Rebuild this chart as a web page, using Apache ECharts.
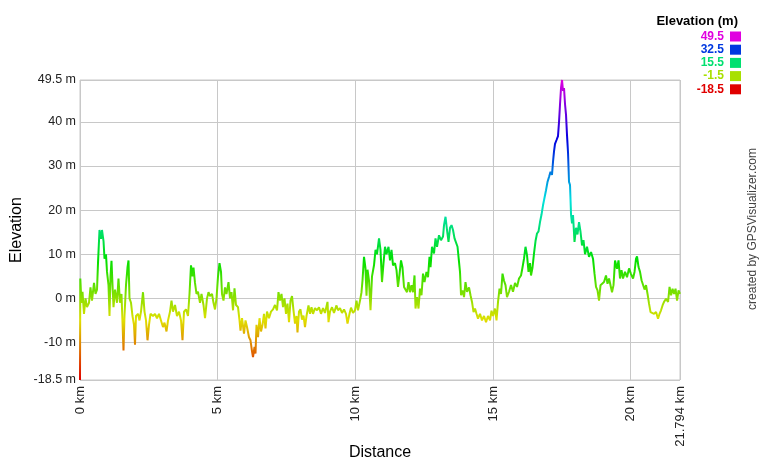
<!DOCTYPE html>
<html><head><meta charset="utf-8">
<script src="https://cdn.jsdelivr.net/npm/echarts@6/dist/echarts.min.js"></script>
<style>html,body{margin:0;padding:0;background:#fff}#c{width:760px;height:460px}</style>
</head><body><div id="c"></div>
<script>
const distanceKm = [0,0.011,0.054,0.091,0.145,0.2,0.254,0.327,0.381,0.436,0.509,0.563,0.618,0.654,0.708,0.763,0.799,0.854,0.89,0.944,0.981,1.035,1.072,1.108,1.144,1.181,1.217,1.271,1.344,1.398,1.453,1.507,1.58,1.616,1.671,1.725,1.762,1.798,1.853,1.907,1.961,1.998,2.034,2.107,2.161,2.216,2.288,2.343,2.397,2.452,2.506,2.561,2.652,2.724,2.797,2.87,2.942,3.015,3.069,3.142,3.197,3.269,3.324,3.378,3.451,3.523,3.596,3.669,3.723,3.778,3.85,3.923,3.977,4.032,4.086,4.123,4.177,4.232,4.286,4.359,4.413,4.486,4.541,4.613,4.668,4.722,4.795,4.849,4.904,4.958,5.013,5.067,5.122,5.158,5.212,5.267,5.321,5.394,5.449,5.503,5.558,5.612,5.667,5.739,5.794,5.83,5.885,5.957,6.012,6.066,6.139,6.193,6.248,6.284,6.339,6.375,6.411,6.466,6.52,6.575,6.629,6.684,6.738,6.793,6.865,6.938,7.011,7.083,7.156,7.21,7.265,7.319,7.374,7.428,7.483,7.537,7.592,7.646,7.701,7.755,7.81,7.864,7.9,7.955,8.009,8.064,8.118,8.173,8.227,8.3,8.355,8.409,8.464,8.536,8.609,8.681,8.754,8.827,8.899,8.99,9.027,9.081,9.154,9.226,9.317,9.372,9.444,9.517,9.59,9.662,9.717,9.789,9.844,9.917,9.989,10.044,10.098,10.171,10.225,10.262,10.316,10.37,10.407,10.443,10.498,10.552,10.607,10.679,10.734,10.788,10.861,10.915,10.97,11.024,11.079,11.133,11.206,11.261,11.315,11.37,11.442,11.497,11.551,11.606,11.66,11.714,11.769,11.823,11.878,11.932,11.987,12.041,12.096,12.151,12.187,12.241,12.296,12.35,12.405,12.459,12.514,12.586,12.641,12.695,12.732,12.786,12.859,12.913,12.968,13.04,13.113,13.186,13.222,13.277,13.331,13.386,13.44,13.495,13.549,13.604,13.658,13.713,13.767,13.803,13.84,13.894,13.949,14.003,14.057,14.13,14.185,14.239,14.294,14.348,14.403,14.457,14.53,14.602,14.675,14.748,14.82,14.893,14.947,15.002,15.075,15.129,15.184,15.238,15.292,15.347,15.402,15.456,15.51,15.583,15.656,15.728,15.801,15.874,15.946,16.019,16.073,16.128,16.182,16.237,16.291,16.346,16.382,16.437,16.491,16.546,16.6,16.655,16.709,16.764,16.818,16.873,16.927,16.982,17.036,17.091,17.145,17.182,17.218,17.254,17.309,17.363,17.4,17.436,17.472,17.509,17.545,17.581,17.618,17.654,17.69,17.727,17.763,17.799,17.836,17.872,17.908,17.962,18.017,18.071,18.126,18.18,18.235,18.289,18.344,18.416,18.489,18.562,18.634,18.689,18.743,18.798,18.852,18.907,18.961,19.034,19.106,19.161,19.216,19.27,19.325,19.379,19.434,19.506,19.561,19.615,19.67,19.724,19.797,19.87,19.943,20.015,20.088,20.142,20.197,20.233,20.288,20.342,20.397,20.451,20.506,20.56,20.615,20.669,20.724,20.778,20.851,20.924,20.996,21.051,21.105,21.16,21.214,21.287,21.36,21.414,21.469,21.523,21.578,21.632,21.687,21.741,21.794];
const elevationM = [-18.5,4.5,-1,1.5,-3.5,0,-2,-1,2.5,-0.5,3.5,1,2,8,15.5,13.5,15.5,13,9,10,6,3,-4,5,8.5,3,-2,2,-1,4.5,-1,1,-11.8,-4,3,7,8.6,0,-1,-4,-6,-10.5,-4,-3.5,-5,-3,1.4,-3,-5,-9.5,-6,-3.5,-4,-3.5,-4.5,-3.5,-5,-6.5,-5.5,-7.5,-5,-3,-0.5,-3,-1.5,-4,-3,-5,-9.5,-3,-2.5,-4,1,7.5,5,7,3.5,1,1.5,-1,1,-1.5,-4.5,0,1.4,0.5,1,-1,-2.5,0,5,8,6,1,-0.5,2.5,1,3.7,0,1.4,-2.7,2.3,-1.5,-2,-5,-7.3,-4.5,-8,-5,-6.5,-8.8,-9.5,-12,-13.3,-11,-12.5,-6,-8.8,-4.5,-7.5,-6,-3.5,-6.8,-3,-4.5,-3,-2.5,-1.5,-2.7,1.4,-0.5,1,-2,0,-3.5,-1.2,-5.4,-0.5,0.5,-2.7,-5.7,-4,-7.7,-3,-2.5,-4.8,-3.9,-6.5,-4,-1.6,-3.5,-2,-3.5,-2.2,-2.7,-2,-3.5,-2.2,-3.3,-0.8,-5.4,-3,-2,-3.3,-1.6,-2.7,-2.2,-3.3,-2.5,-3.5,-5.7,-3.5,-2.1,-3.3,-2.7,-0.5,-2.7,-0.5,1.4,4.1,9.4,6.8,0.6,6.5,4,-2.7,5,7.5,11,10,13.6,11,3.7,8,11.7,10,11.7,8.6,11,7.5,8,6.4,2.6,5.5,8.6,7,2.6,2.2,1.4,3.7,1.4,3,1.4,5.2,-2.3,0.3,-2.3,2.2,0.7,5.6,3.7,6,4.8,9.4,7.1,11.7,10.2,13.6,11.7,14.3,13.2,14,16.6,18.5,15.5,12.8,16,16.6,15.5,13.6,14,11.7,11.7,6,0.7,1.8,0.3,3.7,1.5,2.5,0.7,-0.8,-3.1,-2.3,-3.5,-4.6,-3.5,-5,-4,-5.4,-4,-5,-2.8,-4,-2.3,-5,-0.8,2.2,1,5.6,4,3,0.3,1.5,3,1.5,3.5,2.6,4.5,5.2,7,9,11.7,9.8,6,8,5.2,7,10.2,13,14.7,15.2,17.3,19,21.1,21.5,24.5,26.4,27.5,28.7,28,31,33.3,35,35.9,36.8,40,44,47.7,49.5,47,47.7,44,41.6,37,33,26.4,25.7,19,17,18.9,12.8,16,14.5,17.3,15.1,12,13.2,10,11.7,9.4,10.5,9,5.6,2.6,1.8,-0.5,3,2.6,3.7,5.2,3.3,4.5,4.1,1.4,3,8.6,6.7,8.6,4.5,6.4,4.5,6,4.8,6.8,5.5,4.5,6,9,9.5,7.1,6,4.1,4.1,2,3,1,-1.2,-3.1,-2.7,-3.5,-3.1,-4.6,-3.5,-2.7,-1.6,-0.8,-0.1,-0.8,2.6,0.7,2.2,1,2.2,-0.5,1.8,1];
const yTickValues = [-18.5, -10, 0, 10, 20, 30, 40, 49.5];
const xTickStep = 5;
const xMaxKm = 21.794;
const yMin = -18.5, yMax = 49.5;
const legendValues = [49.5, 32.5, 15.5, -1.5, -18.5];
const legendTitle = 'Elevation (m)';
const creditText = 'created by GPSVisualizer.com';

function colorFor(v) {
  const h = Math.max(0, Math.min(300, (v - yMin) / (yMax - yMin) * 300));
  const V = 224;
  const i = Math.floor(h / 60) % 6, f = h / 60 - Math.floor(h / 60);
  const p = 0, q = Math.round(V * (1 - f)), t = Math.round(V * f);
  let r, g, b;
  switch (i) {
    case 0: r = V; g = t; b = p; break;
    case 1: r = q; g = V; b = p; break;
    case 2: r = p; g = V; b = t; break;
    case 3: r = p; g = q; b = V; break;
    case 4: r = t; g = p; b = V; break;
    default: r = V; g = p; b = q;
  }
  return 'rgb(' + r + ',' + g + ',' + b + ')';
}
const stops = [];
for (let k = 0; k <= 40; k++) stops.push(colorFor(yMin + (yMax - yMin) * k / 40));

const chart = echarts.init(document.getElementById('c'), null, {renderer: 'canvas'});
const font = 'Arial, "Liberation Sans", sans-serif';
const graphics = [
  {type: 'text', right: 22, top: 15, style: {text: legendTitle, font: 'bold 13px ' + font, fill: '#000'}}
];
legendValues.forEach((v, i) => {
  const cy = 36.5 + i * 13.2;
  graphics.push({type: 'text', x: 724, y: cy, style: {text: v.toFixed(1), font: 'bold 12px ' + font, fill: colorFor(v), align: 'right', verticalAlign: 'middle'}});
  graphics.push({type: 'rect', shape: {x: 730, y: cy - 5, width: 11, height: 10}, style: {fill: colorFor(v)}});
});
graphics.push({type: 'text', x: 753, y: 229, rotation: Math.PI / 2, style: {text: creditText, font: '12px ' + font, fill: '#444', align: 'center', verticalAlign: 'middle'}});

chart.setOption({
  animation: false,
  backgroundColor: '#fff',
  grid: {left: 80, right: 80, top: 80, bottom: 80, show: true, borderColor: '#c8c8c8', borderWidth: 1, outerBoundsMode: 'none', containLabel: false},
  xAxis: {
    type: 'value', min: 0, max: xMaxKm, interval: xTickStep,
    name: 'Distance', nameLocation: 'middle', nameGap: 73, nameMoveOverlap: false,
    nameTextStyle: {fontFamily: font, fontSize: 16, color: '#000', verticalAlign: 'middle'},
    axisLine: {show: false, onZero: false}, axisTick: {show: false},
    axisLabel: {rotate: 90, margin: 6, fontFamily: font, fontSize: 13, color: '#222', showMaxLabel: true,
      formatter: v => (Math.abs(v - xMaxKm) < 1e-6 ? xMaxKm.toFixed(3) : v) + ' km'},
    splitLine: {show: true, lineStyle: {color: '#c8c8c8', width: 1}}
  },
  yAxis: {
    type: 'value', min: yMin, max: yMax,
    name: 'Elevation', nameLocation: 'middle', nameGap: 63, nameRotate: 90, nameMoveOverlap: false,
    nameTextStyle: {fontFamily: font, fontSize: 16, color: '#000', verticalAlign: 'middle'},
    axisLine: {show: false}, axisTick: {show: false, customValues: yTickValues},
    axisLabel: {customValues: yTickValues, margin: 4, fontFamily: font, fontSize: 12.5, color: '#222', formatter: v => v + ' m'},
    splitLine: {show: true, lineStyle: {color: '#c8c8c8', width: 1}}
  },
  visualMap: {show: false, type: 'continuous', dimension: 1, min: yMin, max: yMax, inRange: {color: stops}},
  graphic: graphics,
  series: [{
    type: 'line', showSymbol: false, symbol: 'none',
    data: distanceKm.map((d, i) => [d, elevationM[i]]),
    lineStyle: {width: 2}
  }]
});
</script>
</body></html>
